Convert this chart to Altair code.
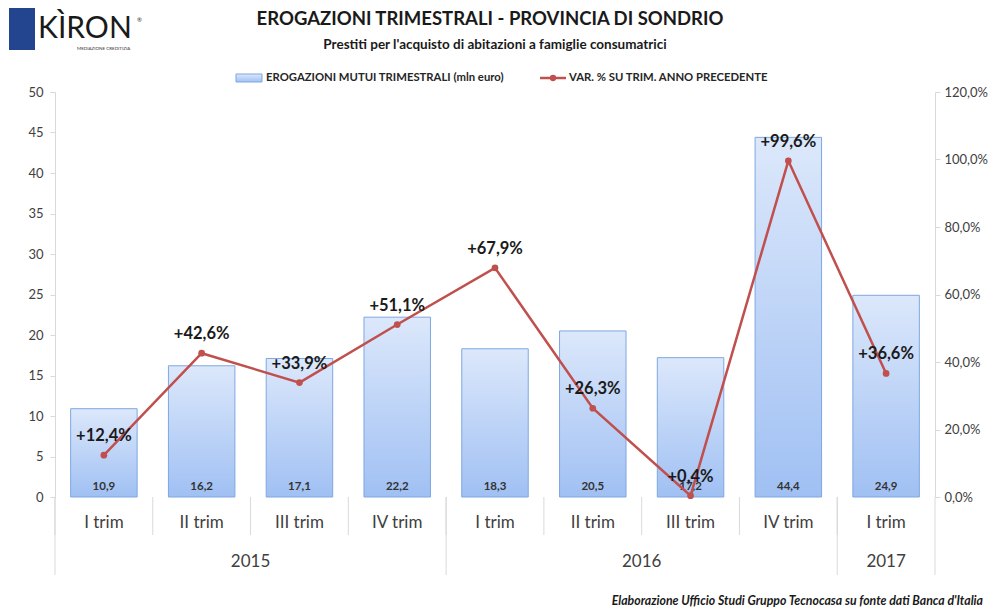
import altair as alt
import pandas as pd

# ---- data ----
years = ["2015", "2015", "2015", "2015", "2016", "2016", "2016", "2016", "2017"]
quarters = ["I trim", "II trim", "III trim", "IV trim", "I trim", "II trim", "III trim", "IV trim", "I trim"]
erogazioni = [10.9, 16.2, 17.1, 22.2, 18.3, 20.5, 17.2, 44.4, 24.9]
variazione = [12.4, 42.6, 33.9, 51.1, 67.9, 26.3, 0.4, 99.6, 36.6]

title_text = "EROGAZIONI TRIMESTRALI - PROVINCIA DI SONDRIO"
subtitle_text = "Prestiti per l'acquisto di abitazioni a famiglie consumatrici"
legend_bar = "EROGAZIONI MUTUI TRIMESTRALI (mln euro)"
legend_line = "VAR. % SU TRIM. ANNO PRECEDENTE"
footer_text = "Elaborazione Ufficio Studi Gruppo Tecnocasa su fonte dati Banca d'Italia"

cats = [f"{y}|{q}" for y, q in zip(years, quarters)]
df = pd.DataFrame({"cat": cats, "year": years, "quarter": quarters,
                   "val": erogazioni, "pct": variazione})

W, H = 880, 405
FONT = "Lato"
RED = "#C0504D"
GRAD = alt.Gradient(gradient="linear",
                    stops=[alt.GradientStop(color="#DCE8FB", offset=0),
                           alt.GradientStop(color="#A0C0F3", offset=1)],
                    x1=0, x2=0, y1=0, y2=1)

xscale = alt.Scale(domain=cats, paddingInner=0, paddingOuter=0)
def X(band=0.5, axis=None):
    return alt.X("cat:N", scale=xscale, bandPosition=band, axis=axis, title=None)

base = alt.Chart(df)

bars = base.mark_bar(width=alt.RelativeBandSize(0.68), fill=GRAD, stroke="#7EA7E0", strokeWidth=1).encode(
    x=alt.X("cat:N", scale=xscale, title=None,
            axis=alt.Axis(labels=False, ticks=False, domain=True, domainColor="#D9D9D9", grid=False)),
    y=alt.Y("val:Q", scale=alt.Scale(domain=[0, 50]), title=None,
            axis=alt.Axis(values=list(range(0, 51, 5)), grid=False, domainColor="#D9D9D9",
                          tickColor="#D9D9D9", tickSize=5, labelFontSize=13, labelColor="#404040",
                          labelFont=FONT, labelPadding=7)),
)

bar_labels = base.transform_calculate(
    lab="replace(format(datum.val, '.1f'), '.', ',')"
).mark_text(font=FONT, fontSize=11.5, fontWeight="bold", color="#333333", baseline="middle").encode(
    x=X(), y=alt.value(H - 10), text="lab:N")

line = base.mark_line(color=RED, strokeWidth=2.5,
                      point=alt.OverlayMarkDef(color=RED, size=45, filled=True, opacity=1)).encode(
    x=X(),
    y=alt.Y("pct:Q", scale=alt.Scale(domain=[0, 120]), title=None,
            axis=alt.Axis(orient="right", values=list(range(0, 121, 20)), grid=False,
                          domainColor="#D9D9D9", tickColor="#D9D9D9", tickSize=5,
                          labelFontSize=13, labelColor="#404040", labelFont=FONT, labelPadding=4,
                          labelExpr="replace(format(datum.value, '.1f'), '.', ',') + '%'")),
)

line_labels = base.transform_calculate(
    lab="'+' + replace(format(datum.pct, '.1f'), '.', ',') + '%'"
).mark_text(font=FONT, fontSize=16.5, fontWeight="bold", color="#1A1A1A", dy=-19, baseline="middle").encode(
    x=X(), y=alt.Y("pct:Q", scale=alt.Scale(domain=[0, 120]), axis=None), text="lab:N")

# category separators and labels
q_sep = base.mark_rule(color="#D9D9D9", strokeWidth=1).encode(
    x=X(band=0), y=alt.value(H), y2=alt.value(H + 38))
first_of_year = df.drop_duplicates("year")
y_sep = alt.Chart(first_of_year).mark_rule(color="#D9D9D9", strokeWidth=1).encode(
    x=X(band=0), y=alt.value(H), y2=alt.value(H + 78))
end_sep = alt.Chart(df.tail(1)).mark_rule(color="#D9D9D9", strokeWidth=1).encode(
    x=X(band=1), y=alt.value(H), y2=alt.value(H + 78))
q_labels = base.mark_text(font=FONT, fontSize=17, color="#404040", baseline="middle").encode(
    x=X(), y=alt.value(H + 26), text="quarter:N")

year_center = df[df["quarter"] == "III trim"]
yl_a = alt.Chart(year_center).mark_text(font=FONT, fontSize=17, color="#404040", baseline="middle").encode(
    x=X(band=0), y=alt.value(H + 65), text="year:N")
yl_b = alt.Chart(df.tail(1)).mark_text(font=FONT, fontSize=17, color="#404040", baseline="middle").encode(
    x=X(band=0.5), y=alt.value(H + 65), text="year:N")

# annotations: titles, legend, footer, logo
one = pd.DataFrame({"k": [0]})
def txt(s, x, y, size, weight="bold", align="center", style="normal", color="#1A1A1A", baseline="middle"):
    return alt.Chart(one).mark_text(text=s, font=FONT, fontSize=size, fontWeight=weight, align=align,
                                    fontStyle=style, color=color, baseline=baseline).encode(
        x=alt.value(x), y=alt.value(y))

title = txt(title_text, 435, -73, 18.5)
subtitle = txt(subtitle_text, 440, -47, 13.5)
leg_rect = alt.Chart(one).mark_rect(fill=GRAD, stroke="#7EA7E0").encode(
    x=alt.value(181), x2=alt.value(207), y=alt.value(-18), y2=alt.value(-10))
leg_t1 = txt(legend_bar, 211, -14, 11.3, align="left", color="#262626")
leg_line = alt.Chart(one).mark_rule(color=RED, strokeWidth=2.5).encode(
    x=alt.value(485), x2=alt.value(511), y=alt.value(-14))
leg_pt = alt.Chart(one).mark_point(color=RED, filled=True, size=40, opacity=1).encode(
    x=alt.value(498), y=alt.value(-14))
leg_t2 = txt(legend_line, 514, -14, 11.3, align="left", color="#262626")
footer = txt(footer_text, 928, 509, 12.3, align="right", style="italic", color="#1A1A1A")

logo_box = alt.Chart(one).mark_rect(fill="#23448F").encode(
    x=alt.value(-46), x2=alt.value(-20), y=alt.value(-84), y2=alt.value(-42))
logo_t = txt("KÌRON", -17, -54, 30, weight="normal", align="left", color="#1A1A1A", baseline="alphabetic")
logo_sub = txt("MEDIAZIONE CREDITIZIA", 22, -43, 4.5, weight="normal", align="left", color="#333333")
logo_r = txt("®", 82, -72, 6, weight="normal", align="left", color="#333333")

chart = alt.layer(
    bars, bar_labels, line, line_labels,
    q_sep, y_sep, end_sep, q_labels, yl_a, yl_b,
    title, subtitle, leg_rect, leg_t1, leg_line, leg_pt, leg_t2, footer,
    logo_box, logo_t, logo_sub, logo_r,
).resolve_scale(y="independent").properties(
    width=W, height=H,
    autosize=alt.AutoSizeParams(type="none"),
    padding={"left": 47, "top": 84, "right": 60, "bottom": 115},
).configure_view(stroke=None).configure_axis(labelFont=FONT)

chart.save("out.html", embed_options={"renderer": "svg", "actions": False})
